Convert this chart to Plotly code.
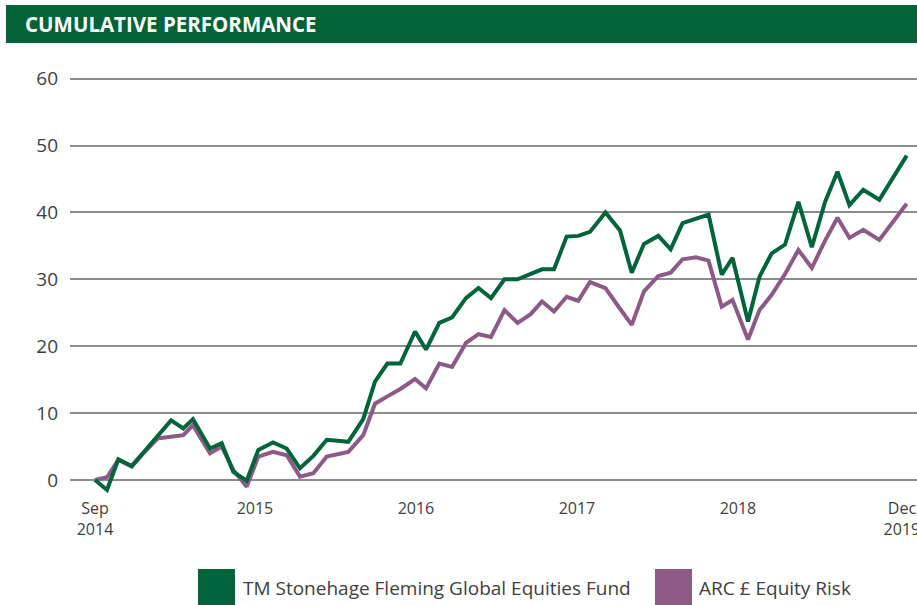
import plotly.graph_objects as go

# months since Sep 2014
months = [0, 0.93, 1.81, 2.85, 3.84, 4.85, 5.90, 6.85, 7.60, 8.92,
          9.83, 10.73, 11.77, 12.67, 13.81, 14.87, 15.90, 16.94, 17.98, 18.81,
          19.65, 20.81, 21.72, 22.68, 23.69, 24.83, 25.68, 26.71, 27.70, 28.78,
          29.75, 30.72, 31.77, 32.78, 33.80, 34.68, 35.61, 36.59, 37.49, 38.40,
          39.60, 40.73, 41.64, 42.59, 43.70, 44.66, 45.58, 46.63, 47.60, 48.62,
          49.46, 50.66, 51.55, 52.50, 53.53, 54.57, 55.61, 56.64, 57.60, 58.53,
          59.60, 60.85, 61.91, 62.97]

fund = [0, -1.5, 3.1, 2.1, 4.3, 6.6, 8.9, 7.7, 9.1, 4.7,
        5.5, 1.2, -0.1, 4.5, 5.6, 4.7, 1.75, 3.6, 6.0, 5.85,
        5.7, 9.1, 14.7, 17.4, 17.4, 22.2, 19.5, 23.5, 24.3, 27.2,
        28.7, 27.2, 30.0, 30.0, 30.85, 31.5, 31.5, 36.4, 36.5, 37.1,
        40.0, 37.3, 31.0, 35.3, 36.5, 34.5, 38.4, 39.0, 39.7, 30.7,
        33.2, 23.7, 30.4, 33.9, 35.2, 41.6, 34.8, 41.6, 46.1, 41.1,
        43.4, 41.9, 45.2, 48.5]

arc = [0, 0.4, 3.0, 2.0, 4.15, 6.2, 6.45, 6.7, 8.2, 4.0,
       5.0, 1.5, -1.0, 3.5, 4.2, 3.7, 0.5, 1.0, 3.5, 3.85,
       4.2, 6.7, 11.4, 12.5, 13.6, 15.1, 13.7, 17.4, 16.9, 20.5,
       21.8, 21.4, 25.4, 23.5, 24.8, 26.7, 25.2, 27.4, 26.8, 29.6,
       28.7, 25.6, 23.2, 28.2, 30.5, 31.0, 33.0, 33.3, 32.8, 25.9,
       26.9, 21.0, 25.4, 27.7, 30.8, 34.4, 31.7, 35.8, 39.2, 36.2,
       37.4, 35.9, 38.6, 41.3]

tick_pos = [0, 12.41, 24.90, 37.39, 49.88, 62.6]
tick_text = ["Sep<br>2014", "2015", "2016", "2017", "2018", "Dec<br>2019"]
y_ticks = [0, 10, 20, 30, 40, 50, 60]

series_names = ["TM Stonehage Fleming Global Equities Fund", "ARC £ Equity Risk"]
GREEN = "#00643a"
PURPLE = "#8d5a88"
TEXT = "#404040"
FONT = "Open Sans"

fig = go.Figure()
fig.add_trace(go.Scatter(x=months, y=arc, mode="lines", name=series_names[1],
                         line=dict(color=PURPLE, width=4)))
fig.add_trace(go.Scatter(x=months, y=fund, mode="lines", name=series_names[0],
                         line=dict(color=GREEN, width=4)))

FW, FH = 917, 605
L, T, W, H = 70, 52, 847, 442

def px(x):
    return (x - L) / W

def py(y):
    return (T + H - y) / H

shapes = [
    dict(type="rect", xref="paper", yref="paper", x0=px(6), x1=px(930), y0=py(43), y1=py(5),
         fillcolor="#006236", line=dict(width=0), layer="above"),
    dict(type="rect", xref="paper", yref="paper", x0=px(198), x1=px(235), y0=py(606), y1=py(569),
         fillcolor=GREEN, line=dict(width=0)),
    dict(type="rect", xref="paper", yref="paper", x0=px(655), x1=px(692), y0=py(606), y1=py(569),
         fillcolor=PURPLE, line=dict(width=0)),
]
annotations = [
    dict(text="<b>CUMULATIVE PERFORMANCE</b>", xref="paper", yref="paper", x=px(23), y=py(24),
         xanchor="left", yanchor="middle", showarrow=False,
         font=dict(family=FONT, size=20.5, color="white")),
    dict(text=series_names[0], xref="paper", yref="paper", x=px(241), y=py(588),
         xanchor="left", yanchor="middle", showarrow=False,
         font=dict(family=FONT, size=19, color=TEXT)),
    dict(text=series_names[1], xref="paper", yref="paper", x=px(697), y=py(588),
         xanchor="left", yanchor="middle", showarrow=False,
         font=dict(family=FONT, size=19, color=TEXT)),
]

fig.update_layout(
    width=FW, height=FH,
    margin=dict(l=L, r=FW - L - W, t=T, b=FH - T - H, autoexpand=False),
    paper_bgcolor="white", plot_bgcolor="white",
    showlegend=False,
    shapes=shapes, annotations=annotations,
    xaxis=dict(range=[-1.94, 63.77], tickmode="array", tickvals=tick_pos, ticktext=tick_text,
               showgrid=False, zeroline=False, showline=False, ticks="",
               tickfont=dict(family=FONT, size=16, color=TEXT),
               ticklabelstandoff=3,
               ticklabeloverflow="allow", automargin=False, fixedrange=True),
    yaxis=dict(range=[-2.1, 64], tickmode="array", tickvals=y_ticks,
               showgrid=True, gridcolor="#8c8c8c", gridwidth=1.5, zeroline=False,
               showline=False, ticks="",
               tickfont=dict(family=FONT, size=19, color=TEXT),
               ticklabelstandoff=11,
               automargin=False, fixedrange=True),
)

fig.write_html("out.html", config={"displayModeBar": False},
               post_script="document.body.style.margin='0';document.body.style.overflow='hidden';")
